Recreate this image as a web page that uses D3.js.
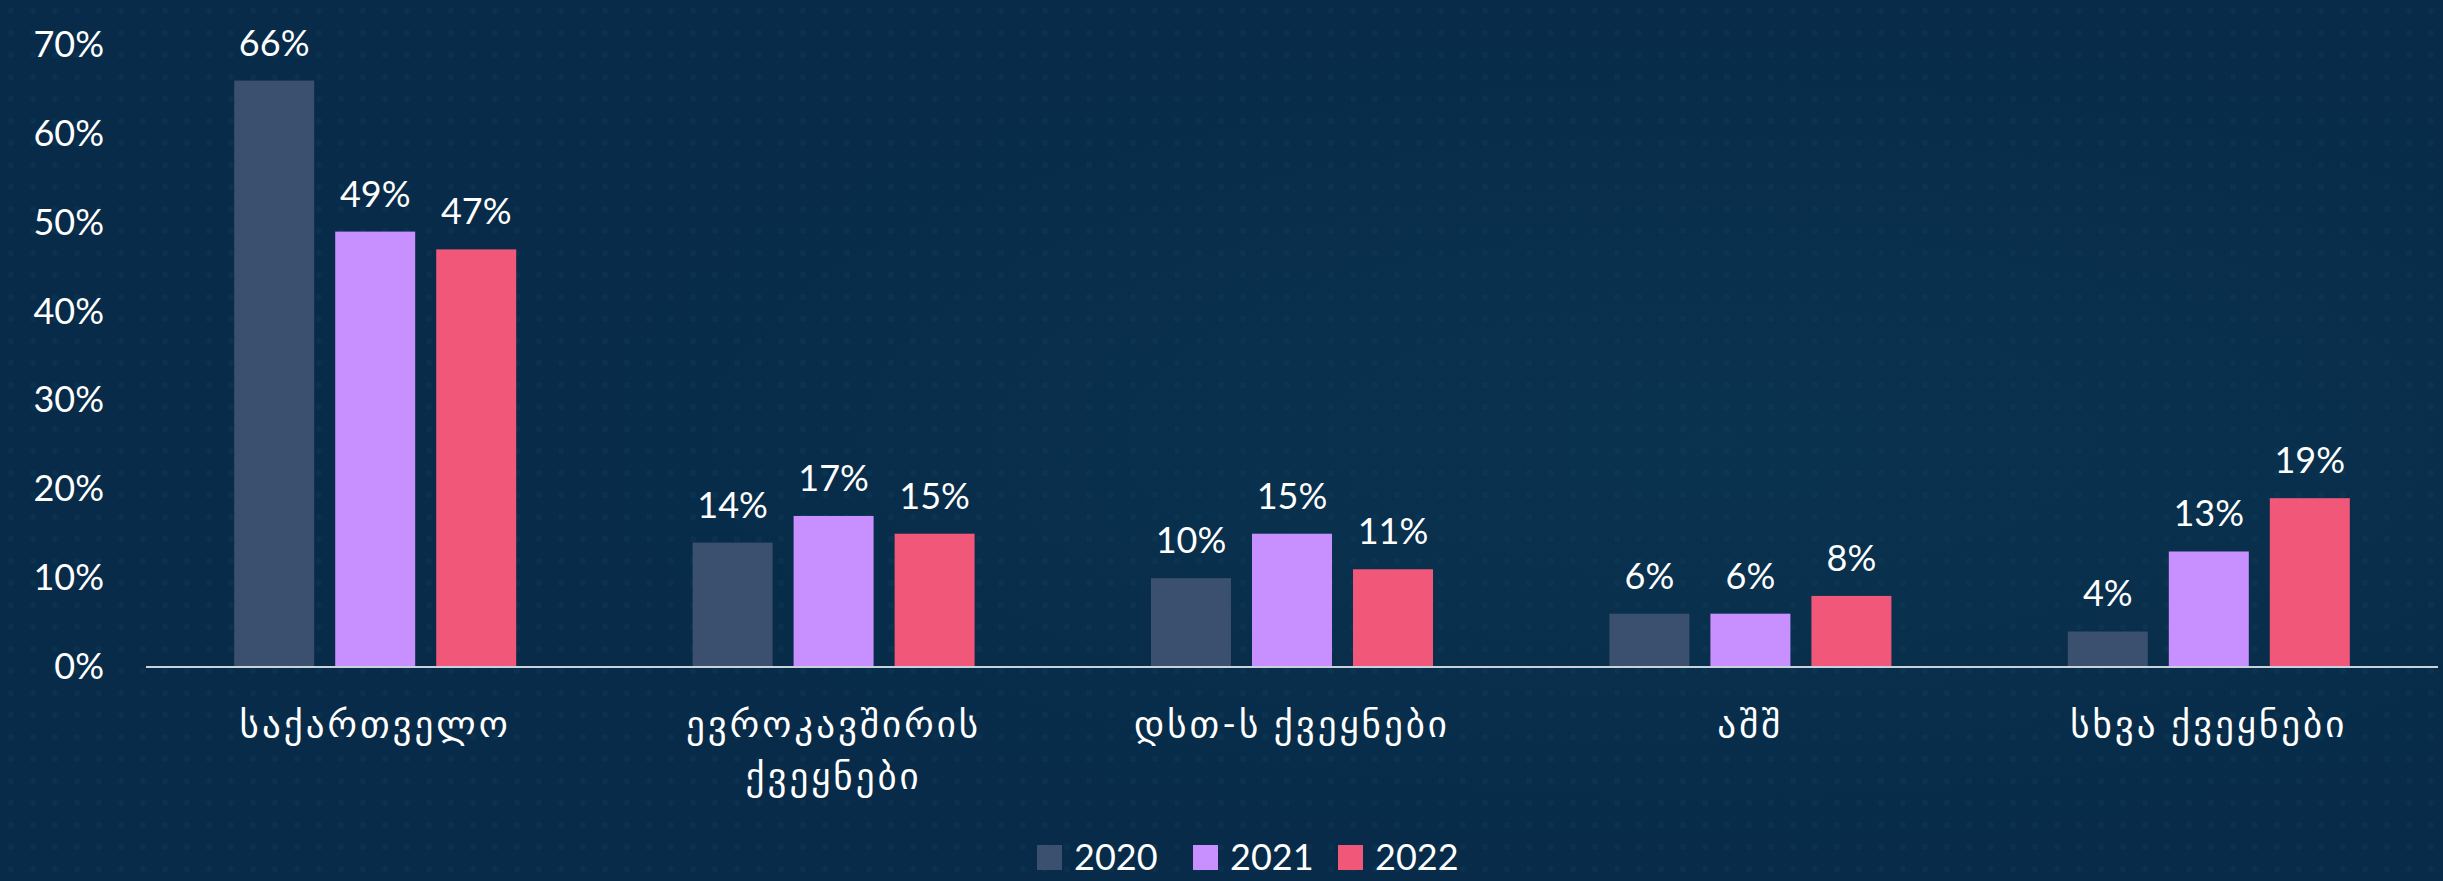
<!DOCTYPE html>
<html>
<head>
<meta charset="utf-8">
<script src="https://cdn.jsdelivr.net/npm/d3@7"></script>
<style>
  html, body { margin: 0; padding: 0; background: #072b48; }
  svg { display: block; }
  text { font-family: "Lato", "DejaVu Sans", sans-serif; fill: #ffffff; }
</style>
</head>
<body>
<script>
// Data
const categories = ["საქართველო", "ევროკავშირის ქვეყნები", "დსთ-ს ქვეყნები", "აშშ", "სხვა ქვეყნები"];
const categoryLines = [["საქართველო"], ["ევროკავშირის", "ქვეყნები"], ["დსთ-ს ქვეყნები"], ["აშშ"], ["სხვა ქვეყნები"]];
const years = ["2020", "2021", "2022"];
const values2020 = [66, 14, 10, 6, 4];
const values2021 = [49, 17, 15, 6, 13];
const values2022 = [47, 15, 11, 8, 19];
const yTicks = [0, 10, 20, 30, 40, 50, 60, 70];
const colors = ["#3a506e", "#c88ffe", "#f05779"];

const seriesByYear = [values2020, values2021, values2022];

// Layout
const width = 2443;
const height = 881;

const svg = d3.select("body")
  .append("svg")
  .attr("width", width)
  .attr("height", height);

// Background with a faint glow and dots
const defs = svg.append("defs");
const glow = defs.append("radialGradient")
  .attr("id", "glow")
  .attr("cx", "0.7").attr("cy", "0.5").attr("r", "0.5");
glow.append("stop").attr("offset", "0%").attr("stop-color", "#0a3350");
glow.append("stop").attr("offset", "100%").attr("stop-color", "#072b48");

const dots = defs.append("pattern")
  .attr("id", "dots")
  .attr("width", 22).attr("height", 22)
  .attr("patternUnits", "userSpaceOnUse");
dots.append("circle")
  .attr("cx", 11).attr("cy", 11).attr("r", 3)
  .attr("fill", "#1b5a6e")
  .attr("opacity", 0.25);

svg.append("rect")
  .attr("width", width).attr("height", height)
  .attr("fill", "url(#glow)");
svg.append("rect")
  .attr("width", width).attr("height", height)
  .attr("fill", "url(#dots)")
  .attr("opacity", 0.5);

// Scales
const x0 = d3.scaleBand()
  .domain(categories)
  .range([146, 2438])
  .padding(0);

const x1 = d3.scaleBand()
  .domain(years)
  .range([0, 282])
  .paddingInner(0.208);

const y = d3.scaleLinear()
  .domain([0, 70])
  .range([667, 45]);

// Y axis labels
const yAxis = d3.axisLeft(y)
  .tickValues(yTicks)
  .tickFormat((d) => d + "%")
  .tickSize(0)
  .tickPadding(0);

const yAxisG = svg.append("g")
  .attr("transform", "translate(104,0)")
  .call(yAxis);
yAxisG.select(".domain").remove();
yAxisG.selectAll("text")
  .attr("font-size", 36)
  .attr("font-family", "Lato, 'DejaVu Sans', sans-serif")
  .attr("fill", "#ffffff");

// Bars
const groups = svg.selectAll("g.group")
  .data(categories)
  .enter()
  .append("g")
  .attr("class", "group")
  .attr("transform", (d) => `translate(${x0(d) + x0.bandwidth() / 2 - 141},0)`);

groups.each(function (cat, ci) {
  const g = d3.select(this);
  const rows = years.map((yr, yi) => ({ year: yr, value: seriesByYear[yi][ci], color: colors[yi] }));

  g.selectAll("rect")
    .data(rows)
    .enter()
    .append("rect")
    .attr("x", (d) => x1(d.year))
    .attr("y", (d) => y(d.value))
    .attr("width", x1.bandwidth())
    .attr("height", (d) => y(0) - y(d.value))
    .attr("fill", (d) => d.color);

  g.selectAll("text.value")
    .data(rows)
    .enter()
    .append("text")
    .attr("class", "value")
    .attr("x", (d) => x1(d.year) + x1.bandwidth() / 2)
    .attr("y", (d) => y(d.value) - 25)
    .attr("text-anchor", "middle")
    .attr("font-size", 36)
    .text((d) => d.value + "%");
});

// Baseline
svg.append("line")
  .attr("x1", x0.range()[0])
  .attr("x2", x0.range()[1])
  .attr("y1", y(0))
  .attr("y2", y(0))
  .attr("stroke", "#c9d1dc")
  .attr("stroke-width", 2);

// Category labels (Georgian glyphs come from DejaVu Sans)
categories.forEach((cat, ci) => {
  const t = svg.append("text")
    .attr("x", x0(cat) + x0.bandwidth() / 2)
    .attr("y", 737)
    .attr("text-anchor", "middle")
    .attr("font-size", 37)
    .attr("letter-spacing", 3);
  categoryLines[ci].forEach((line, li) => {
    t.append("tspan")
      .attr("x", x0(cat) + x0.bandwidth() / 2)
      .attr("dy", li === 0 ? 0 : 52)
      .text(line);
  });
});

// Legend
const legendX = [1037, 1193, 1338];
const legend = svg.selectAll("g.legend")
  .data(years)
  .enter()
  .append("g")
  .attr("class", "legend")
  .attr("transform", (d, i) => `translate(${legendX[i]},845)`);

legend.append("rect")
  .attr("width", 25)
  .attr("height", 25)
  .attr("fill", (d, i) => colors[i]);

legend.append("text")
  .attr("x", 37)
  .attr("y", 25)
  .attr("font-size", 36)
  .text((d) => d);
</script>
</body>
</html>
